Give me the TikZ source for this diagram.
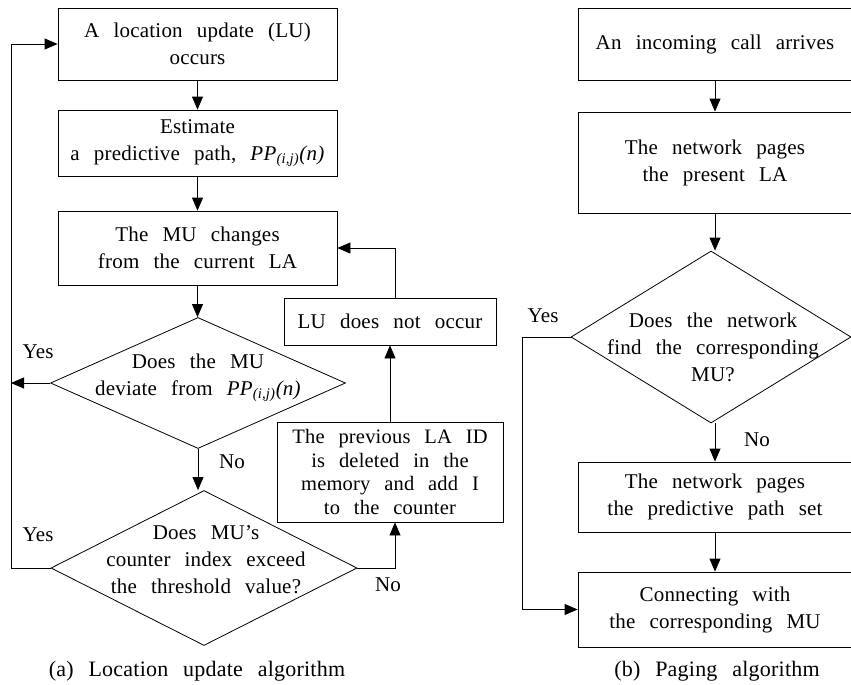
\documentclass[tikz,border=0pt]{standalone}
\usepackage{fontspec}
\setmainfont{Liberation Serif}[WordSpace=2.6, LetterSpace=1]
\usetikzlibrary{shapes.geometric,arrows.meta,calc}
\newcommand{\ppij}{\textit{PP}\textsubscript{\textit{(i,j)}}\textit{(n)}}
\begin{document}
\begin{tikzpicture}[x=1pt,y=-1pt,
  box/.style={draw, line width=0.8pt, rectangle, inner sep=0pt, align=center,
    font=\fontsize{21}{27}\selectfont},
  dia/.style={draw, line width=0.8pt, diamond, inner sep=0pt},
  txt/.style={align=center, inner sep=0pt, font=\fontsize{21}{27}\selectfont},
  arr/.style={line width=0.8pt, -{Triangle[length=13pt,width=11pt]}},
  ln/.style={line width=0.8pt}]
\useasboundingbox (0,0) rectangle (851,685);

% ---------- (a) Location update algorithm ----------
\node[box, minimum width=279pt, minimum height=72pt] (lu) at (197.5,44)
  {A location update (LU)\\occurs};
\node[box, minimum width=279pt, minimum height=66pt] (est) at (197.5,143)
  {Estimate\\a predictive path, \ppij};
\node[box, minimum width=279pt, minimum height=74pt] (chg) at (197.5,248)
  {The MU changes\\from the current LA};
\node[dia, minimum width=295pt, minimum height=131pt] (d1) at (198,383) {};
\node[txt] (d1t) at (198,378) {Does the MU\\deviate from \ppij};
\node[dia, minimum width=306pt, minimum height=155pt] (d2) at (204,568) {};
\node[txt] (d2t) at (206,560) {Does MU's\\counter index exceed\\the threshold value?};
\node[box, minimum width=212pt, minimum height=47pt] (lunot) at (390,321.5)
  {LU does not occur};
\node[box, minimum width=226pt, minimum height=100pt,
  font=\fontsize{20.5}{23.5}\selectfont] (prev) at (390,472)
  {The previous LA ID\\is deleted in the\\memory and add I\\to the counter};

\coordinate (lx) at (11,0);
\coordinate (nx) at (395,0);

\draw[arr] (lu) -- (est);
\draw[arr] (est) -- (chg);
\draw[arr] (chg.south) -- (chg.south |- d1.north);
\draw[arr] (d1.west) -- (d1.west -| lx);
\draw[arr] (d2.west) -- (d2.west -| lx) -- (lx |- lu.west) -- (lu.west);
\draw[arr] (d1.south) -- (d1.south |- d2.north);
\draw[arr] (d2.east) -- (d2.east -| nx) -- (nx |- prev.south);
\draw[arr] (prev.north) -- (lunot.south);
\draw[arr] (nx |- lunot.north) -- (nx |- chg.east) -- (chg.east);

\node[txt] (y1) at (38,352) {Yes};
\node[txt] (y2) at (38,535) {Yes};
\node[txt] (n1) at (232,462) {No};
\node[txt] (n2) at (388,585) {No};

\node[txt, font=\fontsize{22}{27}\selectfont] (capa) at (197,671) {(a) Location update algorithm};

% ---------- (b) Paging algorithm ----------
\node[box, minimum width=274pt, minimum height=72pt] (r1) at (715,44)
  {An incoming call arrives};
\node[box, minimum width=274pt, minimum height=101pt] (r2) at (715,162.5)
  {The network pages\\the present LA};
\node[dia, minimum width=280pt, minimum height=172pt] (d3) at (711,337) {};
\node[txt] (d3t) at (713,347) {Does the network\\find the corresponding\\MU?};
\node[box, minimum width=274pt, minimum height=70pt] (r4) at (715,497)
  {The network pages\\the predictive path set};
\node[box, minimum width=274pt, minimum height=75pt] (r5) at (715,609.5)
  {Connecting with\\the corresponding MU};

\coordinate (rx) at (522,0);

\draw[arr] (r1) -- (r2);
\draw[arr] (r2.south) -- (r2.south |- d3.north);
\draw[arr] (r2.south |- d3.south) -- (r4.north);
\draw[arr] (d3.west) -- (d3.west -| rx) -- (rx |- r5.west) -- (r5.west);
\draw[arr] (r4) -- (r5);

\node[txt] (y3) at (543,316) {Yes};
\node[txt] (n3) at (757,440) {No};

\node[txt, font=\fontsize{22}{27}\selectfont] (capb) at (717,671) {(b) Paging algorithm};
\end{tikzpicture}
\end{document}
